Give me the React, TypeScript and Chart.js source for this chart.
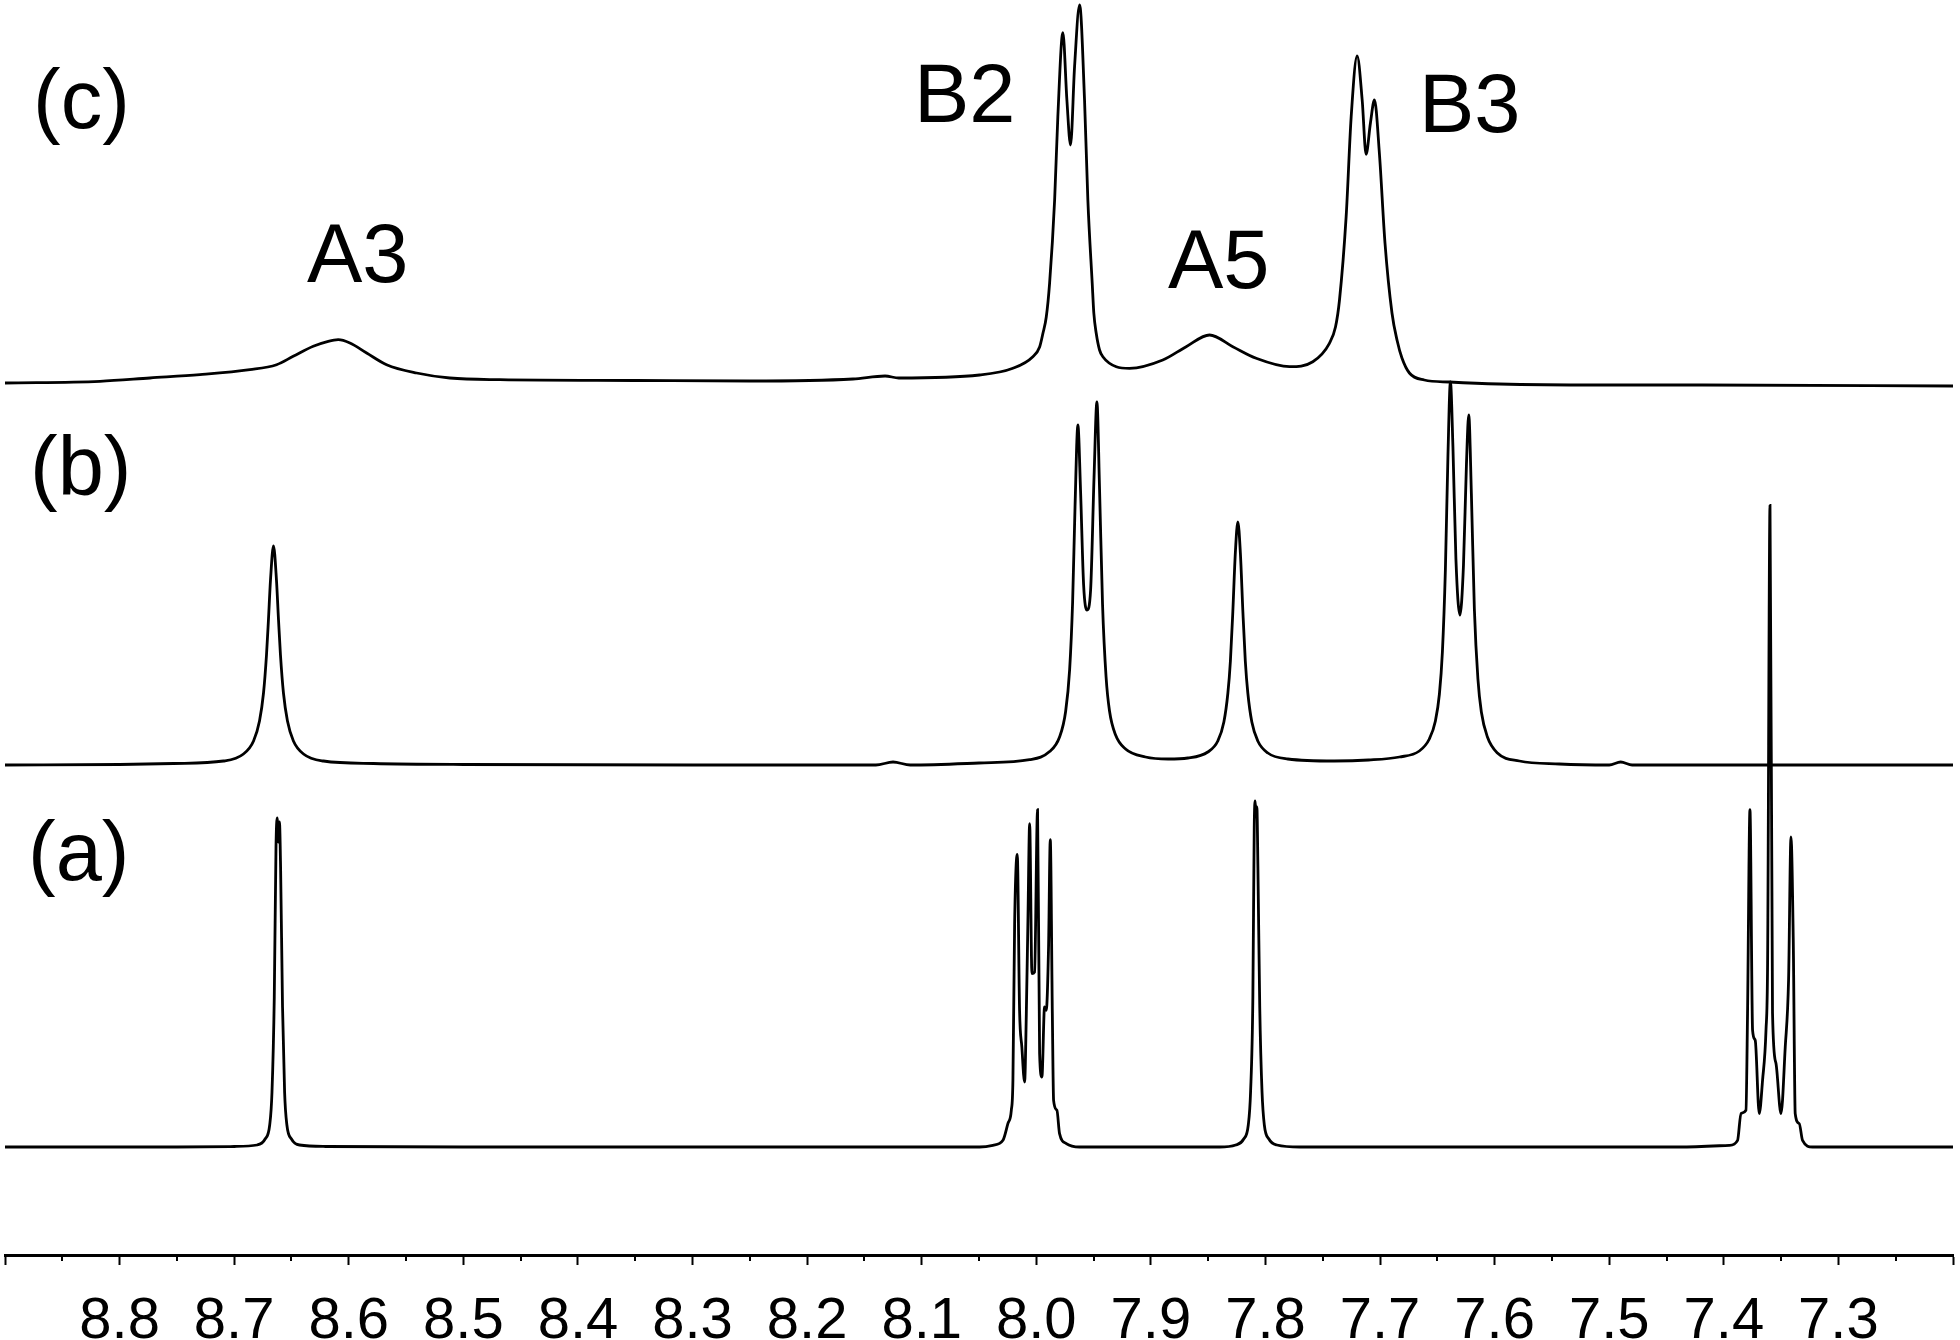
import React, { useEffect, useRef } from "react";
import { Chart, registerables } from "chart.js";

Chart.register(...registerables);

// chemical shift axis (ppm), reversed like an NMR spectrum
const X_MIN = 7.2;
const X_MAX = 8.9;
const TICK_LABELS = ["8.8", "8.7", "8.6", "8.5", "8.4", "8.3", "8.2", "8.1", "8.0", "7.9", "7.8", "7.7", "7.6", "7.5", "7.4", "7.3"];
const MINOR_TICKS = [8.85, 8.75, 8.65, 8.55, 8.45, 8.35, 8.25, 8.15, 8.05, 7.95, 7.85, 7.75, 7.65, 7.55, 7.45, 7.35, 7.25];

// vertical stacking offsets of the three traces (arbitrary intensity units)
const OFFSET_A = 108;
const OFFSET_B = 490;
const OFFSET_C = 872;
const Y_MAX = 1255;

// trace (a): [ppm, intensity]
const SPEC_A: [number, number][] = [
  [8.9, 0], [8.75, 0], [8.7, 0.5],
  [8.68, 2], [8.673, 8], [8.669, 22], [8.667, 55], [8.665, 150], [8.6635, 300], [8.6625, 329],
  [8.6615, 305], [8.6605, 325], [8.6595, 280], [8.6578, 140], [8.656, 55], [8.654, 22], [8.65, 8], [8.643, 2],
  [8.62, 0.5], [8.5, 0], [8.3, 0],
  [8.0495, 0], [8.0379, 1.7], [8.0291, 6.7], [8.0248, 23.4], [8.0218, 36.7], [8.0204, 66.7], [8.0189, 223.7],
  [8.0166, 292.7], [8.0146, 136.7], [8.0126, 100], [8.0102, 65], [8.0087, 133.4], [8.0073, 226.7], [8.0058, 323.4],
  [8.0038, 173.4], [8.0015, 175], [7.9989, 337.4], [7.9971, 93.4], [7.9951, 70], [7.9928, 140], [7.9913, 136.7],
  [7.9893, 200], [7.9878, 307.4], [7.986, 133.4], [7.9849, 46.7], [7.982, 36.7], [7.9797, 13.4], [7.9738, 3.4], [7.9622, 0],
  [7.9, 0], [7.84, 0],
  [7.826, 2], [7.819, 8], [7.815, 22], [7.813, 55], [7.811, 150], [7.8098, 320], [7.809, 346], [7.8082, 330],
  [7.8075, 340], [7.8066, 280], [7.805, 140], [7.803, 55], [7.801, 22], [7.797, 8], [7.79, 2],
  [7.77, 0], [7.6, 0],
  [7.4389, 0], [7.3952, 1.7], [7.388, 6.7], [7.385, 33.7], [7.3807, 36.7], [7.3793, 133.7], [7.3772, 337.4],
  [7.3749, 116.7], [7.3726, 106.7], [7.3691, 33.4], [7.3662, 66.7], [7.3632, 116.7], [7.3618, 183.7], [7.3597, 641.7],
  [7.3575, 133.7], [7.3545, 83.7], [7.3501, 33.4], [7.3464, 100], [7.3435, 166.7], [7.3414, 310], [7.3394, 206.7],
  [7.3377, 33.4], [7.3342, 23.4], [7.3313, 6.7], [7.3226, 0], [7.2644, 0], [7.2, 0],
];

// trace (b)
const SPEC_B: [number, number][] = [
  [8.9, 0], [8.8, 0.5], [8.7529, 1.5], [8.7093, 4], [8.6919, 11], [8.6831, 24], [8.6779, 44], [8.6744, 72],
  [8.6718, 110], [8.6701, 145], [8.6683, 185], [8.6657, 219], [8.6631, 185], [8.6613, 145], [8.6596, 110],
  [8.657, 72], [8.6535, 44], [8.6483, 24], [8.6395, 11], [8.6221, 4], [8.5785, 1.5], [8.5, 0.5], [8.3, 0],
  [8.14, 0], [8.125, 3], [8.11, 0], [8.05, 2],
  [8.00584, 5.3], [7.9884, 13.4], [7.9797, 28], [7.9744, 53.5], [7.9709, 95.4], [7.9683, 163], [7.9662, 258],
  [7.9637, 340], [7.9614, 275], [7.9587, 180], [7.9557, 155], [7.9526, 175], [7.9496, 288], [7.9471, 363],
  [7.9448, 276], [7.9422, 161], [7.9391, 88], [7.9361, 54], [7.9308, 30], [7.9221, 16], [7.9047, 8], [7.885, 6],
  [7.8677, 7], [7.8503, 13], [7.8416, 24], [7.8363, 43], [7.8328, 72], [7.8306, 104], [7.8285, 153], [7.8263, 212],
  [7.8241, 243], [7.8219, 212], [7.8197, 153], [7.8176, 104], [7.8154, 72], [7.8119, 43], [7.8067, 24],
  [7.7979, 12], [7.7805, 6], [7.74, 4], [7.71, 5],
  [7.6831, 8], [7.6657, 14], [7.657, 26], [7.6517, 44], [7.6482, 71], [7.6456, 113], [7.643, 195], [7.6408, 307],
  [7.6386, 383], [7.6364, 318], [7.6338, 206], [7.6303, 150], [7.6272, 200], [7.6246, 301], [7.6226, 350],
  [7.6203, 271], [7.6177, 156], [7.6146, 86], [7.6116, 53], [7.6063, 28], [7.5976, 12], [7.5784, 4], [7.5435, 1],
  [7.5, 0], [7.49, 3], [7.48, 0], [7.4, 0], [7.2, 0],
];

// trace (c)
const SPEC_C: [number, number][] = [
  [8.9, 0], [8.8171, 1.7], [8.7735, 5], [8.7299, 8.3], [8.6863, 13.3], [8.663, 18.3], [8.6485, 26.7], [8.631, 36.7],
  [8.6179, 41.7], [8.6092, 43.3], [8.599, 40], [8.5844, 30], [8.567, 18.3], [8.5408, 10], [8.5118, 5], [8.4682, 3.3],
  [8.35, 2.5], [8.2501, 2], [8.16, 4], [8.132, 7], [8.12, 5], [8.0495, 8], [8.0204, 14.7], [8.003, 26.3],
  [7.9971, 36], [7.9942, 49.7], [7.9913, 66], [7.9884, 99.7], [7.984, 183], [7.9812, 266.3], [7.9768, 350.3],
  [7.9733, 283], [7.9701, 238], [7.9666, 316.3], [7.9622, 378], [7.9579, 283], [7.955, 183], [7.9512, 99.7],
  [7.9498, 70], [7.9477, 49.7], [7.9448, 33], [7.9419, 26.3],
  [7.9302, 16.3], [7.9186, 14.7], [7.8896, 23], [7.8692, 36.3], [7.8488, 48], [7.8285, 36.3], [7.8081, 24.7],
  [7.779, 16.3], [7.7587, 21.3], [7.7442, 39.7], [7.7389, 56], [7.7354, 83], [7.7296, 166.3], [7.7252, 266.3], [7.72, 327],
  [7.7156, 283], [7.7122, 228.7], [7.7084, 260], [7.7049, 283], [7.7006, 230], [7.6957, 140], [7.6896, 70],
  [7.685, 42], [7.6809, 25], [7.6744, 10], [7.6614, 3], [7.6396, 1], [7.596, -1], [7.5088, -2], [7.4214, -2], [7.2, -3],
];

const TRACE_LABELS = ["(c)", "(b)", "(a)"];
const PEAK_LABELS = ["A3", "B2", "A5", "B3"];

const FONT = '"Liberation Sans", Arial, Helvetica, sans-serif';

const toPoints = (spec: [number, number][], offset: number) =>
  spec.map(([x, y]) => ({ x, y: y + offset }));

const annotationPlugin = {
  id: "nmrAnnotations",
  afterDraw(chart: any) {
    const { ctx, chartArea } = chart;
    const xs = chart.scales.x;
    ctx.save();
    // minor ticks
    ctx.strokeStyle = "#000";
    ctx.lineWidth = 2;
    MINOR_TICKS.forEach((v) => {
      const px = Math.round(xs.getPixelForValue(v));
      ctx.beginPath();
      ctx.moveTo(px, chartArea.bottom);
      ctx.lineTo(px, chartArea.bottom + 6);
      ctx.stroke();
    });
    // text labels
    ctx.fillStyle = "#000";
    ctx.font = `83px ${FONT}`;
    ctx.textBaseline = "alphabetic";
    ctx.textAlign = "left";
    const tracePos = [[33, 128], [30, 495], [28, 880]];
    TRACE_LABELS.forEach((t, i) => ctx.fillText(t, tracePos[i][0], tracePos[i][1]));
    const peakPos = [[307, 282], [914, 122], [1168, 288], [1419, 132]];
    PEAK_LABELS.forEach((t, i) => ctx.fillText(t, peakPos[i][0], peakPos[i][1]));
    ctx.restore();
  },
};

export default function App() {
  const ref = useRef<HTMLCanvasElement | null>(null);
  useEffect(() => {
    if (!ref.current) return;
    const mk = (spec: [number, number][], off: number) => ({
      data: toPoints(spec, off),
      borderColor: "#000",
      borderWidth: 2.8,
      pointRadius: 0,
      fill: false,
      cubicInterpolationMode: "monotone" as const,
    });
    const chart = new Chart(ref.current, {
      type: "line",
      data: {
        datasets: [mk(SPEC_C, OFFSET_C), mk(SPEC_B, OFFSET_B), mk(SPEC_A, OFFSET_A)],
      },
      options: {
        animation: false,
        responsive: false,
        devicePixelRatio: 1,
        parsing: false,
        normalized: true,
        layout: { padding: { left: 5, right: 7, top: 0, bottom: 0 } },
        plugins: { legend: { display: false }, tooltip: { enabled: false } },
        scales: {
          x: {
            type: "linear",
            reverse: true,
            min: X_MIN,
            max: X_MAX,
            afterFit: (scale: any) => {
              scale.height = 85;
              scale.paddingLeft = 0;
              scale.paddingRight = 0;
            },
            border: { display: true, color: "#000", width: 3 },
            grid: { drawOnChartArea: false, drawTicks: true, tickLength: 10, tickWidth: 2, tickColor: "#000" },
            ticks: {
              stepSize: 0.1,
              autoSkip: false,
              maxRotation: 0,
              minRotation: 0,
              padding: 22,
              color: "#000",
              font: { family: FONT, size: 58 },
              callback: (value: any) => {
                const s = Number(value).toFixed(1);
                return TICK_LABELS.includes(s) ? s : "";
              },
            },
          },
          y: { type: "linear", display: false, min: 0, max: Y_MAX },
        },
      },
      plugins: [annotationPlugin],
    });
    return () => chart.destroy();
  }, []);
  return (
    <div style={{ position: "absolute", left: 0, top: 0, width: 1960, height: 1340, overflow: "hidden", background: "#fff" }}>
      <canvas ref={ref} width={1960} height={1340} style={{ width: 1960, height: 1340, display: "block" }} />
    </div>
  );
}
